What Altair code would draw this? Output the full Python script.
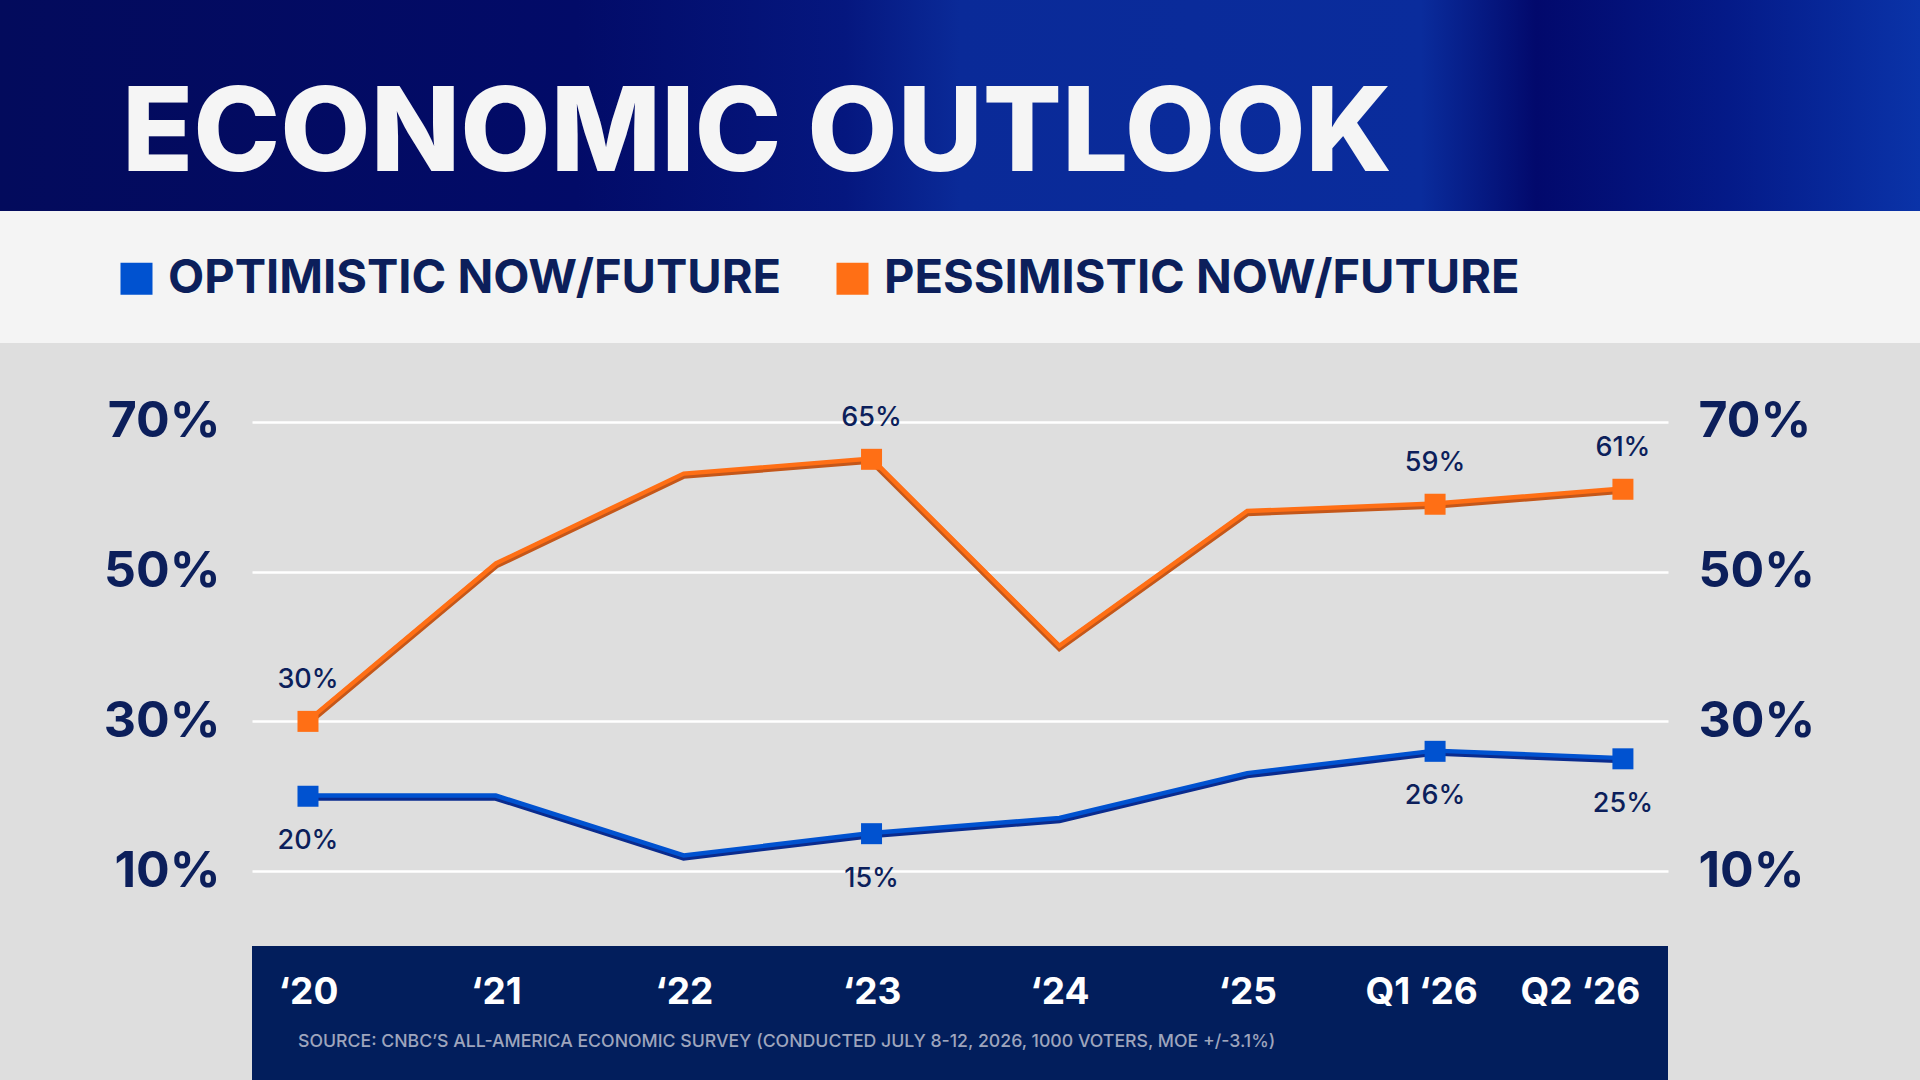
import altair as alt
import pandas as pd

# ---- data -------------------------------------------------------------
periods = ["‘20", "‘21", "‘22", "‘23", "‘24", "‘25", "Q1 ‘26", "Q2 ‘26"]
optimistic = [20, 20, 12, 15, 17, 23, 26, 25]
pessimistic = [30, 51, 63, 65, 40, 58, 59, 61]
labeled = [True, False, False, True, False, False, True, True]
series_names = ["OPTIMISTIC NOW/FUTURE", "PESSIMISTIC NOW/FUTURE"]
y_ticks = [10, 30, 50, 70]

title_text = "ECONOMIC OUTLOOK"
source_text = ("SOURCE: CNBC’S ALL-AMERICA ECONOMIC SURVEY (CONDUCTED JULY 8-12, 2026, "
               "1000 VOTERS, MOE +/-3.1%)")

# ---- styling ----------------------------------------------------------
NAVY = "#0c1f5b"
BAND = "#021e5c"
BLUE = "#0052d0"
ORANGE = "#ff6f15"
BLUE_DARK = "#0a2b8e"
ORANGE_DARK = "#c4571a"
FONT = "Inter"
PESS = "datum.series == 'PESSIMISTIC NOW/FUTURE'"

rows = []
for name, vals in zip(series_names, [optimistic, pessimistic]):
    for p, v, lab in zip(periods, vals, labeled):
        rows.append({"period": p, "series": name, "value": v, "labeled": lab})
df = pd.DataFrame(rows)

one = pd.DataFrame({"k": [0]})

x_axis = alt.Axis(
    title=None,
    orient="bottom",
    domain=False,
    ticks=False,
    grid=False,
    labelAngle=0,
    labelPadding=46,
    labelBaseline="middle",
    labelFont=FONT,
    labelFontSize=37,
    labelFontWeight=700,
    labelColor="white",
    zindex=1,
    labelOffset={
        "condition": [
            {"test": "datum.value == 'Q2 ‘26'", "value": -43},
            {"test": "datum.value == 'Q1 ‘26'", "value": -14},
        ],
        "value": 0,
    },
)
x_enc = alt.X(
    "period:N",
    sort=periods,
    scale=alt.Scale(type="point", domain=periods, padding=0.269, align=0.554),
    axis=x_axis,
)
y_scale = alt.Scale(domain=[0, 80], nice=False, zero=False)

left_axis = alt.Axis(
    title=None,
    orient="left",
    values=y_ticks,
    domain=False,
    ticks=False,
    grid=True,
    gridColor="white",
    gridWidth=2.5,
    labelPadding=32,
    labelFont=FONT,
    labelFontSize=50,
    labelFontWeight=700,
    labelColor=NAVY,
    labelExpr="datum.value + '%'",
)
right_axis = alt.Axis(
    title=None,
    orient="right",
    values=y_ticks,
    domain=False,
    ticks=False,
    grid=False,
    labelPadding=30,
    labelFont=FONT,
    labelFontSize=50,
    labelFontWeight=700,
    labelColor=NAVY,
    labelExpr="datum.value + '%'",
)

# ---- page furniture ----------------------------------------------------
header_fill = alt.LinearGradient(
    gradient="linear",
    x1=0, x2=1, y1=0, y2=0,
    stops=[
        alt.GradientStop(color="#030b5c", offset=0),
        alt.GradientStop(color="#020b68", offset=0.3),
        alt.GradientStop(color="#05177f", offset=0.44),
        alt.GradientStop(color="#0a2a98", offset=0.5),
        alt.GradientStop(color="#0a2c9c", offset=0.74),
        alt.GradientStop(color="#02096c", offset=0.8),
        alt.GradientStop(color="#041a88", offset=0.9),
        alt.GradientStop(color="#0a33a8", offset=1),
    ],
)
header = alt.Chart(one).mark_rect(color=header_fill).encode(
    x=alt.value(-252), x2=alt.value(1668), y=alt.value(-347), y2=alt.value(-136)
)
legend_band = alt.Chart(one).mark_rect(color="#f4f4f4").encode(
    x=alt.value(-252), x2=alt.value(1668), y=alt.value(-136), y2=alt.value(-4)
)
axis_band = alt.Chart(one).mark_rect(color=BAND).encode(
    x=alt.value(0), x2=alt.value(1416), y=alt.value(599), y2=alt.value(733)
)
title = alt.Chart(one).mark_text(
    text=title_text, font=FONT, fontSize=117, fontWeight=800, color="#f5f5f5",
    align="left", baseline="alphabetic",
).encode(x=alt.value(-130), y=alt.value(-176))
source = alt.Chart(one).mark_text(
    text=source_text, font=FONT, fontSize=17.7, fontWeight=500, color="#9ea5bd",
    align="left", baseline="middle",
).encode(x=alt.value(46), y=alt.value(695))

# ---- data marks -------------------------------------------------------
base = alt.Chart(df)

shadow = base.mark_line(strokeWidth=6.5, yOffset=1.3).encode(
    x=x_enc,
    y=alt.Y("value:Q", scale=y_scale, axis=left_axis),
    stroke=alt.condition(PESS, alt.value(ORANGE_DARK), alt.value(BLUE_DARK)),
    detail="series:N",
)

lines = base.mark_line(strokeWidth=4.4, yOffset=-0.7).encode(
    x=x_enc,
    y=alt.Y("value:Q", scale=y_scale, axis=None),
    stroke=alt.condition(PESS, alt.value(ORANGE), alt.value(BLUE)),
    detail="series:N",
)

markers = base.transform_filter("datum.labeled").mark_square(size=441, opacity=1).encode(
    x=x_enc,
    y=alt.Y("value:Q", scale=y_scale, axis=right_axis),
    color=alt.Color(
        "series:N",
        scale=alt.Scale(domain=series_names, range=[BLUE, ORANGE]),
        legend=alt.Legend(
            title=None,
            orient="none",
            legendX=-139,
            legendY=-92,
            direction="horizontal",
            symbolType="square",
            symbolSize=1024,
            symbolStrokeWidth=0,
            symbolOpacity=1,
            labelFont=FONT,
            labelFontSize=47,
            labelFontWeight=700,
            labelColor=NAVY,
            labelOffset=8,
            labelLimit=0,
            columnPadding=47,
            padding=0,
        ),
    ),
)

label_text = dict(font=FONT, fontSize=27, fontWeight=500, color=NAVY, baseline="middle")
labels_above = base.transform_filter(
    "datum.labeled && " + PESS
).transform_calculate(label="datum.value + '%'").mark_text(dy=-41, **label_text).encode(
    x=x_enc, y=alt.Y("value:Q", scale=y_scale, axis=None), text="label:N"
)
labels_below = base.transform_filter(
    "datum.labeled && !(" + PESS + ")"
).transform_calculate(label="datum.value + '%'").mark_text(dy=45, **label_text).encode(
    x=x_enc, y=alt.Y("value:Q", scale=y_scale, axis=None), text="label:N"
)

chart = (
    alt.layer(header, legend_band, axis_band, shadow, lines, markers,
              labels_above, labels_below, title, source)
    .resolve_axis(y="independent")
    .properties(
        width=1416,
        height=599,
        autosize=alt.AutoSizeParams(type="none"),
        padding={"left": 252, "top": 347, "right": 252, "bottom": 134},
        background="#dedede",
    )
    .configure_view(stroke=None)
)

chart.save("out.html", embed_options={"renderer": "svg", "actions": False})
